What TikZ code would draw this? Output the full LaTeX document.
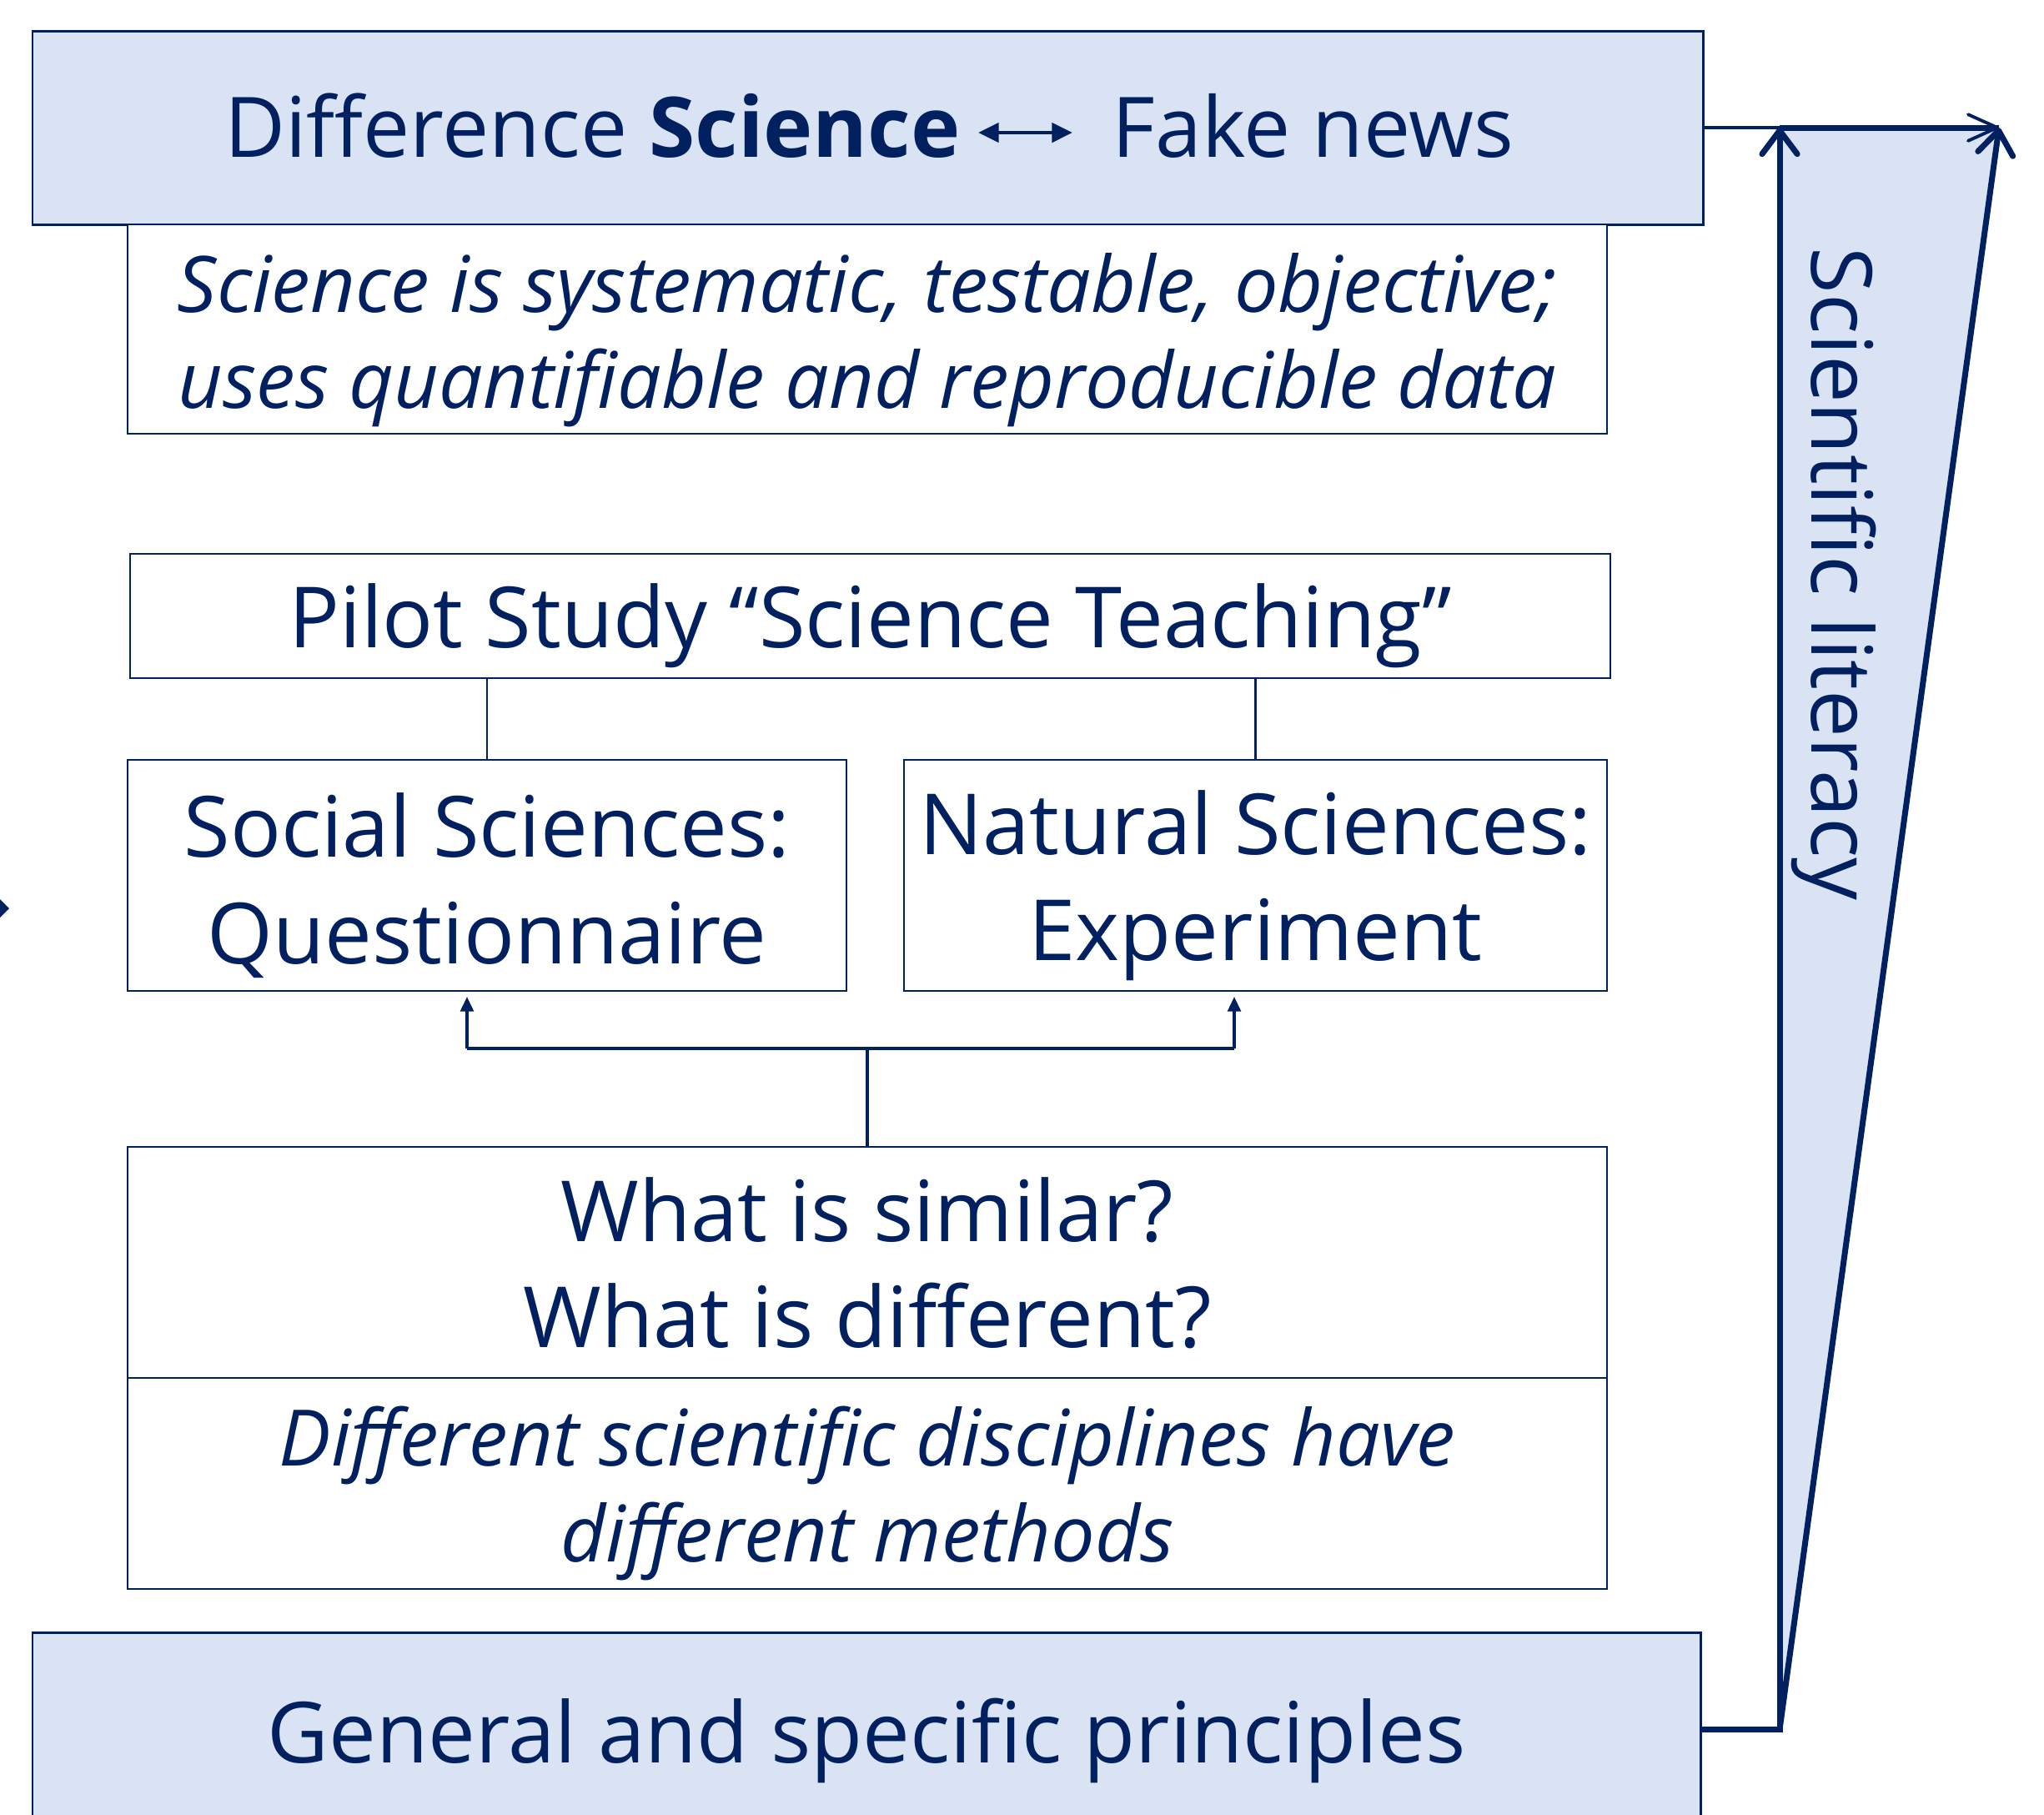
\documentclass[tikz,border=0pt]{standalone}
\usepackage{fontspec}
\setmainfont{Open Sans}
\usetikzlibrary{arrows.meta,positioning}
\definecolor{navy}{HTML}{002060}
\definecolor{paleblue}{HTML}{DAE3F3}

\begin{document}
\begin{tikzpicture}[navy, >={Straight Barb[length=8pt,width=12pt,round]},
                    font=\fontsize{28.8}{36.2}\selectfont]
    \tikzstyle{band}=[draw, fill=paleblue, line width=0.85pt, inner sep=0pt]
    \tikzstyle{frame}=[draw, fill=white, line width=0.6pt, inner sep=0pt]
    \tikzstyle{caption}=[inner sep=0pt, align=center]
    \tikzstyle{remark}=[caption, font=\fontsize{26.6}{32.7}\selectfont\itshape]
    \tikzstyle{rise}=[line width=2pt]

    \useasboundingbox (0,0) rectangle (24.51,-21.75);

    \node[band, minimum width=20.03cm, minimum height=2.32cm] (head) at (10.405,-1.53) {};
    \node[inner sep=0pt, anchor=base east, font=\fontsize{28.5}{34}\selectfont] (science)  at (11.52,-1.88) {Difference \textbf{Science}};
    \node[inner sep=0pt, anchor=base west, font=\fontsize{28.5}{34}\selectfont] (fakenews) at (13.33,-1.88) {Fake news};

    \node[frame, minimum width=17.74cm, minimum height=2.51cm] (definition) at (10.40,-3.945) {};
    \node[remark] (definitiontext) at ([yshift=-0.13cm]definition)
        {Science is systematic, testable, objective;\\uses quantifiable and reproducible data};

    \node[frame, minimum width=17.75cm, minimum height=1.49cm] (pilot) at (10.435,-7.385) {};
    \node[caption] (pilottext) at ([yshift=-0.12cm]pilot) {Pilot Study “Science Teaching”};

    \node[frame, minimum width=8.62cm, minimum height=2.77cm] (social) at (5.84,-10.495) {};
    \node[caption] (socialtext) at ([yshift=-0.12cm]social) {Social Sciences:\\Questionnaire};

    \node[frame, minimum width=8.43cm, minimum height=2.77cm] (natural) at (15.055,-10.495) {};
    \node[caption] (naturaltext) at ([yshift=-0.12cm]natural) {Natural Sciences:\\Experiment};

    \node[frame, minimum width=17.74cm, minimum height=2.77cm] (compare) at (10.40,-15.135) {};
    \node[caption] (comparetext) at ([yshift=-0.01cm]compare) {What is similar?\\What is different?};

    \node[frame, minimum width=17.74cm, minimum height=2.53cm] (methods) at (10.40,-17.785) {};
    \node[remark] (methodstext) at ([yshift=-0.12cm]methods)
        {Different scientific disciplines have\\different methods};

    \node[band, minimum width=20.0cm, minimum height=2.44cm] (principles) at (10.39,-20.79) {};
    \node[caption] (principlestext) at ([yshift=-0.08cm]principles) {General and specific principles};

    \coordinate (foot) at (21.34,-20.73);
    \coordinate (mast) at (21.34,-1.53);
    \coordinate (peak) at (23.97,-1.53);
    \fill[paleblue] (foot) -- (mast) -- (peak) -- cycle;
    \node[rotate=-90, anchor=base] (literacy) at (21.72,-6.88) {Scientific literacy};

    \draw[line width=1.4pt, {Triangle[length=7pt,width=6.5pt]}-{Triangle[length=7pt,width=6.5pt]}]
        ([shift={(0.21,0.29)}]science.base east) -- ([shift={(-0.47,0.29)}]fakenews.base west);

    \draw[line width=0.6pt] (social.north |- pilot.south) -- (social.north);
    \draw[line width=0.6pt] (natural.north |- pilot.south) -- (natural.north);

    \coordinate (fork)  at ([yshift=1.17cm]compare.north);
    \coordinate (socin) at (5.60,-11.95);
    \coordinate (natin) at (14.80,-11.95);
    \draw[line width=0.9pt] (compare.north) -- (fork);
    \draw[line width=1.4pt] (socin |- fork) -- (natin |- fork);
    \draw[line width=0.9pt, -{Triangle[length=5pt,width=4.5pt]}] (socin |- fork) -- (socin);
    \draw[line width=0.9pt, -{Triangle[length=5pt,width=4.5pt]}] (natin |- fork) -- (natin);

    \draw[line width=1.1pt, ->, >={Straight Barb[length=10pt,width=9pt,round]}] (head.east) -- (peak);
    \draw[rise] (mast) -- (peak);
    \draw[rise, ->] (principles.east |- foot) -- (foot) -- (mast);
    \draw[rise, ->] (foot) -- (peak);

    \fill (0,-10.78) -- (0.11,-10.89) -- (0,-11.00) -- cycle;
\end{tikzpicture}
\end{document}
